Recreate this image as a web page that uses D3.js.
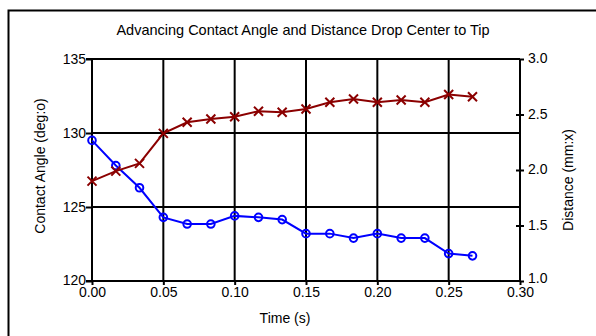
<!DOCTYPE html>
<html>
<head>
<meta charset="utf-8">
<script src="https://cdn.jsdelivr.net/npm/d3@7"></script>
<style>
  html, body { margin: 0; padding: 0; background: #fff; }
  text { font-family: "Liberation Sans", Arial, sans-serif; fill: #000; }
</style>
</head>
<body>
<svg id="chart" width="596" height="336"></svg>
<script>
const title = "Advancing Contact Angle and Distance Drop Center to Tip";
const xLabel = "Time (s)";
const yLeftLabel = "Contact Angle (deg:o)";
const yRightLabel = "Distance (mm:x)";

const time = [0.0000, 0.0167, 0.0333, 0.0500, 0.0667, 0.0833, 0.1000, 0.1167, 0.1333,
              0.1500, 0.1667, 0.1833, 0.2000, 0.2167, 0.2333, 0.2500, 0.2667];
const angle = [129.5, 127.8, 126.3, 124.3, 123.85, 123.85, 124.4, 124.3, 124.15,
               123.2, 123.2, 122.9, 123.2, 122.9, 122.9, 121.85, 121.7];
const distance = [1.90, 1.99, 2.06, 2.33, 2.43, 2.46, 2.48, 2.53, 2.52,
                  2.55, 2.61, 2.64, 2.61, 2.63, 2.61, 2.68, 2.66];

const xTicks = [0, 0.05, 0.10, 0.15, 0.20, 0.25, 0.30];
const yLeftTicks = [120, 125, 130, 135];
const yRightTicks = [1.0, 1.5, 2.0, 2.5, 3.0];

const svg = d3.select("#chart");
const L = 92, R = 520, T = 59, B = 281;

const x = d3.scaleLinear().domain([0, 0.3]).range([L, R]);
const yL = d3.scaleLinear().domain([120, 135]).range([B, T]);
const yR = d3.scaleLinear().domain([1, 3]).range([B, T]);

// outer frame
svg.append("rect").attr("x", 8.5).attr("y", 10.5).attr("width", 700).attr("height", 500)
  .attr("fill", "none").attr("stroke", "#000").attr("stroke-width", 2);

// title
svg.append("text").attr("x", 303).attr("y", 35).attr("text-anchor", "middle")
  .attr("font-size", 14.5).text(title);

// grid
const g = svg.append("g");
g.selectAll("line.hg").data(yLeftTicks.filter(d => d > 120)).enter().append("line")
  .attr("x1", L).attr("x2", R).attr("y1", d => yL(d)).attr("y2", d => yL(d))
  .attr("stroke", "#000").attr("stroke-width", 2);
g.selectAll("line.vg").data(xTicks.filter(d => d > 0 && d < 0.3)).enter().append("line")
  .attr("y1", T).attr("y2", B).attr("x1", d => x(d)).attr("x2", d => x(d))
  .attr("stroke", "#000").attr("stroke-width", 2);

// left axis
const axL = d3.axisLeft(yL).tickValues(yLeftTicks).tickSize(6).tickPadding(0).tickFormat(d3.format("d"));
const gL = svg.append("g").attr("transform", `translate(${L},0)`).call(axL);
// right axis
const axR = d3.axisRight(yR).tickValues(yRightTicks).tickSize(4).tickPadding(4).tickFormat(d3.format(".1f"));
const gR = svg.append("g").attr("transform", `translate(${R},0)`).call(axR);
gR.selectAll(".tick line").attr("x1", d => (d > 1 && d < 3) ? -4 : 0);
// bottom axis
const axB = d3.axisBottom(x).tickValues(xTicks).tickSize(4).tickPadding(0).tickFormat(d3.format(".2f"));
const gB = svg.append("g").attr("transform", `translate(0,${B})`).call(axB);

[gL, gR, gB].forEach(a => {
  a.select(".domain").attr("stroke", "#000").attr("stroke-width", 2);
  a.selectAll(".tick line").attr("stroke", "#000").attr("stroke-width", 2);
  a.selectAll(".tick text").attr("font-size", 14).attr("font-family", "Liberation Sans, Arial, sans-serif").attr("fill", "#000");
});
gL.select(".domain").attr("d", `M-6,${B}H0V${T}H-6`);
gR.select(".domain").attr("d", `M0,${B}V${T}`);
gB.select(".domain").attr("d", `M${L},0H${R}`);
gL.selectAll(".tick text").attr("dy", d => d === 120 ? "0.22em" : "0.3em");
gR.selectAll(".tick text").attr("dy", d => d === 1 ? "0.12em" : "0.25em");
gB.selectAll(".tick text").attr("dy", "0.85em");

// axis titles
svg.append("text").attr("transform", `translate(45,166) rotate(-90)`).attr("text-anchor", "middle")
  .attr("font-size", 14).text(yLeftLabel);
svg.append("text").attr("transform", `translate(573,180) rotate(-90)`).attr("text-anchor", "middle")
  .attr("font-size", 14).text(yRightLabel);
svg.append("text").attr("x", 285).attr("y", 323).attr("text-anchor", "middle")
  .attr("font-size", 14).text(xLabel);

// series
const idx = d3.range(time.length);
const blue = "#0000ff", red = "#8b0000";

svg.append("path").datum(idx)
  .attr("d", d3.line().x(i => x(time[i])).y(i => yL(angle[i])))
  .attr("fill", "none").attr("stroke", blue).attr("stroke-width", 2);
svg.append("g").selectAll("circle").data(idx).enter().append("circle")
  .attr("cx", i => x(time[i])).attr("cy", i => yL(angle[i])).attr("r", 3.8)
  .attr("fill", "none").attr("stroke", blue).attr("stroke-width", 2);

svg.append("path").datum(idx)
  .attr("d", d3.line().x(i => x(time[i])).y(i => yR(distance[i])))
  .attr("fill", "none").attr("stroke", red).attr("stroke-width", 2);
const s = 4.5;
svg.append("g").selectAll("path").data(idx).enter().append("path")
  .attr("d", i => {
    const cx = x(time[i]), cy = yR(distance[i]);
    return `M${cx - s},${cy - s}L${cx + s},${cy + s}M${cx - s},${cy + s}L${cx + s},${cy - s}`;
  })
  .attr("fill", "none").attr("stroke", red).attr("stroke-width", 2);
</script>
</body>
</html>
